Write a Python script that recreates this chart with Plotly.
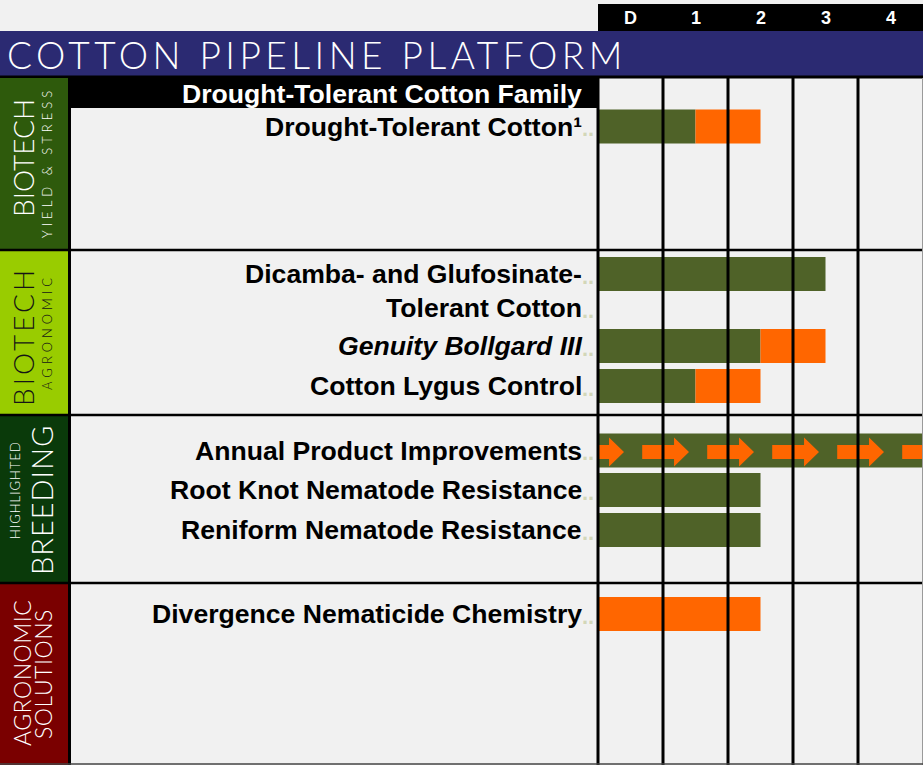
import plotly.graph_objects as go

# ---------------- data ----------------
TITLE = "COTTON PIPELINE PLATFORM"
PHASES = ["D", "1", "2", "3", "4"]
FAMILY_LABEL = "Drought-Tolerant Cotton Family"
PRODUCTS = [
    "Drought-Tolerant Cotton¹",
    "Dicamba- and Glufosinate-<br>Tolerant Cotton",
    "<i>Genuity Bollgard III</i>",
    "Cotton Lygus Control",
    "Annual Product Improvements",
    "Root Knot Nematode Resistance",
    "Reniform Nematode Resistance",
    "Divergence Nematicide Chemistry",
]
# phase lengths (1 unit = one phase column)
GREEN_LEN = [1.5, 3.5, 2.5, 1.5, 5.0, 2.5, 2.5, 0.0]
ORANGE_LEN = [1.0, 0.0, 1.0, 1.0, 0.0, 0.0, 0.0, 2.5]
ONGOING = [False, False, False, False, True, False, False, False]
SECTION_MAIN = ["BIOTECH", "BIOTECH", "BREEDING", "AGRONOMIC"]
SECTION_SUB = ["YIELD & STRESS", "AGRONOMIC", "HIGHLIGHTED", "SOLUTIONS"]

# ---------------- layout / style ----------------
W, H = 923, 765
GRID_X0 = 598      # pixel x of phase "D" start
COL = 65           # pixel width of one phase column


def xu(p):
    return (p - GRID_X0) / COL


ROW_Y = [126.5, 274, 346, 386, 450.5, 490, 530, 614]
LINE_H = 34
BAR_W = 34
SEC_TOP = [78, 250, 415, 583]
SEC_BOT = [250, 415, 583, 765]
SEC_COLOR = ["#2e5a0c", "#99cc00", "#0a3a0a", "#7a0000"]
SEC_TEXT = ["white", "#151515", "white", "white"]
# main: (x px, y px, size, letter spacing); sub: same
SEC_MAIN_FMT = [(23, 158, 28, 0), (23, 337, 28, 3), (41, 500, 29, 1), (22, 673, 23, 0.5)]
SEC_SUB_FMT = [(47, 163, 13, 4), (47, 332, 13, 4), (15, 490, 13, 1), (43, 674, 23, 0.5)]

GREEN = "#4f6228"
ORANGE = "#ff6600"
NAVY = "#2b2a72"
BG = "#f1f1f1"
DOT = "#d3d7b8"
LIGHT = "Lato"
BOLD = "Liberation Sans, Arial, sans-serif"
LABEL_SIZE = 26.6

fig = go.Figure()

fig.add_trace(go.Bar(y=ROW_Y, x=GREEN_LEN, base=[0] * len(ROW_Y), orientation="h",
                     width=BAR_W, marker=dict(color=GREEN, line=dict(width=0)),
                     hoverinfo="skip"))
fig.add_trace(go.Bar(y=ROW_Y, x=ORANGE_LEN, base=GREEN_LEN, orientation="h",
                     width=BAR_W, marker=dict(color=ORANGE, line=dict(width=0)),
                     hoverinfo="skip"))

# arrows for ongoing programs
ARROW_LEN, HEAD_LEN, BODY_H, HEAD_H, ARROW_OFF = 0.72, 0.23, 7, 14.5, -0.32
for i, on in enumerate(ONGOING):
    if not on:
        continue
    yc = ROW_Y[i] + 1.5
    for k in range(len(PHASES) + 1):
        s = k + ARROW_OFF
        hb = s + ARROW_LEN - HEAD_LEN
        e = s + ARROW_LEN
        s0 = max(s, 0)
        xs = [s0, hb, hb, e, hb, hb, s0, s0]
        ys = [yc - BODY_H, yc - BODY_H, yc - HEAD_H, yc, yc + HEAD_H, yc + BODY_H, yc + BODY_H, yc - BODY_H]
        fig.add_trace(go.Scatter(x=xs, y=ys, mode="lines", fill="toself", fillcolor=ORANGE,
                                 line=dict(width=0, color=ORANGE), hoverinfo="skip"))

shapes = []
# title bar
shapes.append(dict(type="rect", xref="paper", x0=0, x1=1, y0=31, y1=76, fillcolor=NAVY,
                   line=dict(width=0), layer="below"))
shapes.append(dict(type="rect", xref="paper", x0=0, x1=1, y0=75.5, y1=78.5, fillcolor="black",
                   line=dict(width=0), layer="below"))
# phase header
shapes.append(dict(type="rect", x0=0, x1=xu(W), y0=4, y1=31, fillcolor="black",
                   line=dict(width=0), layer="below"))
# family header band
shapes.append(dict(type="rect", x0=xu(71), x1=0, y0=78, y1=108, fillcolor="black",
                   line=dict(width=0), layer="below"))
# section boxes
for t, b, c in zip(SEC_TOP, SEC_BOT, SEC_COLOR):
    shapes.append(dict(type="rect", x0=xu(0), x1=xu(69), y0=t, y1=b, fillcolor=c,
                       line=dict(width=0), layer="below"))
# left separator
shapes.append(dict(type="line", x0=xu(69.5), x1=xu(69.5), y0=78, y1=H, line=dict(color="black", width=3)))
# section dividers
for t in SEC_TOP[1:]:
    shapes.append(dict(type="line", xref="paper", x0=0, x1=1, y0=t, y1=t, line=dict(color="black", width=2.5)))
# phase grid lines
for k in range(len(PHASES)):
    shapes.append(dict(type="line", x0=k, x1=k, y0=78, y1=H, line=dict(color="black", width=3)))
shapes.append(dict(type="line", x0=xu(922.5), x1=xu(922.5), y0=78, y1=H, line=dict(color="#9a9a9a", width=1)))
shapes.append(dict(type="line", xref="paper", x0=0, x1=1, y0=764, y1=764, line=dict(color="#444444", width=1.5)))

ann = []
ann.append(dict(x=xu(5), y=54, xanchor="left", yanchor="middle", showarrow=False,
                text=f"<span style='letter-spacing:4.5px'>{TITLE}</span>",
                font=dict(family=LIGHT, size=37, color="white", weight=300)))
for k, p in enumerate(PHASES):
    ann.append(dict(x=k + 0.5, y=18, showarrow=False, text=f"<b>{p}</b>",
                    font=dict(family=BOLD, size=18, color="white")))
ann.append(dict(x=xu(583.5), y=93.5, xanchor="right", yanchor="middle", showarrow=False,
                text=f"<b>{FAMILY_LABEL}</b>", font=dict(family=BOLD, size=LABEL_SIZE, color="white")))
for i, lab in enumerate(PRODUCTS):
    for j, line in enumerate(lab.split("<br>")):
        yy = ROW_Y[i] + j * LINE_H
        ann.append(dict(x=xu(583.5), y=yy, xanchor="right", yanchor="middle", showarrow=False,
                        text=f"<b>{line}</b>", font=dict(family=BOLD, size=LABEL_SIZE, color="black")))
        ann.append(dict(x=xu(580), y=yy + 2, xanchor="left", yanchor="middle", showarrow=False,
                        text="<b>..</b>", font=dict(family=BOLD, size=22, color=DOT)))
for s in range(4):
    for txt, (xp, yp, sz, ls) in ((SECTION_MAIN[s], SEC_MAIN_FMT[s]), (SECTION_SUB[s], SEC_SUB_FMT[s])):
        ann.append(dict(x=xu(xp), y=yp, textangle=-90, showarrow=False,
                        text=f"<span style='letter-spacing:{ls}px'>{txt}</span>",
                        font=dict(family=LIGHT, size=sz, color=SEC_TEXT[s], weight=300)))

fig.update_layout(
    width=W, height=H, margin=dict(l=0, r=0, t=0, b=0),
    paper_bgcolor=BG, plot_bgcolor=BG, showlegend=False, barmode="overlay",
    xaxis=dict(range=[xu(0), xu(W)], visible=False, fixedrange=True),
    yaxis=dict(range=[H, 0], visible=False, fixedrange=True),
    shapes=shapes, annotations=ann,
)

fig.write_html("out.html", config={"displayModeBar": False},
               post_script="document.body.style.margin='0px';")
